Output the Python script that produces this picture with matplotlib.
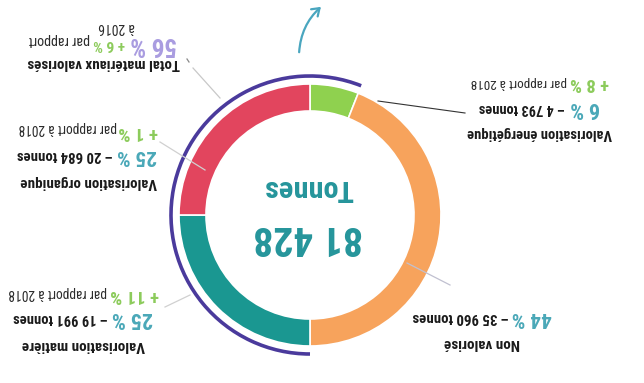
import matplotlib
matplotlib.use("Agg")
import matplotlib.pyplot as plt
from matplotlib.patches import Arc, FancyArrowPatch
from matplotlib import font_manager

# tonnage split, clockwise from the top of the ring
labels = ["Valorisation énergétique", "Non valorisé", "Valorisation matière", "Valorisation organique"]
shares = [6, 44, 25, 25]
tonnes = ["4 793", "35 960", "19 991", "20 684"]
changes = ["+ 8 %", None, "+ 11 %", "+ 1 %"]
colors = ["#8fd14f", "#f7a35c", "#1a9791", "#e2455e"]
valorised = [True, False, True, True]
total = "81 428"
total_share = "56 %"
total_change = "+ 6 %"

names = {f.name for f in font_manager.fontManager.ttflist}
FONT = next((f for f in ["Roboto Condensed", "PT Sans Narrow", "Liberation Sans"] if f in names), "DejaVu Sans")
plt.rcParams["font.family"] = [FONT, "DejaVu Sans"]

W, H = 644, 383
fig = plt.figure(figsize=(W / 100, H / 100), dpi=100)
ax = fig.add_axes([0, 0, 1, 1])

def Y(py):
    return H - py

cx, cy, R = 310, Y(215), 131
ax.pie(shares, colors=colors, startangle=90, counterclock=False, radius=R, center=(cx, cy),
       wedgeprops=dict(width=27, edgecolor="white", linewidth=1.2), frame=True)
ax.set_xlim(0, W)
ax.set_ylim(0, H)
ax.axis("off")

# purple arc round the valorised segments (starts where the green one ends)
val_pct = sum(s for s, v in zip(shares, valorised) if v)
t_end = 90 - shares[0] * 3.6
ax.add_patch(Arc((cx, cy), 2 * 139, 2 * 139, theta1=t_end, theta2=t_end + val_pct * 3.6,
                 color="#4a3a9c", lw=2.6))

# curved arrow above the ring
ax.add_patch(FancyArrowPatch((299, Y(55)), (323, Y(5)), connectionstyle="arc3,rad=-0.22",
                             arrowstyle="->,head_length=5,head_width=3.5", color="#4aa6bf", lw=1.6))

# leader lines
ax.plot([378, 465], [Y(101), Y(113)], color="#333333", lw=0.8)
ax.plot([220, 193], [Y(98), Y(68)], color="#c8c8c8", lw=0.9)
ax.plot([187, 189], [Y(59), Y(62)], color="#888888", lw=0.9)
ax.plot([160, 205], [Y(142), Y(170)], color="#d0d0d0", lw=0.9)
ax.plot([165, 190], [Y(307), Y(295)], color="#d0d0d0", lw=0.9)
ax.plot([407, 450], [Y(263), Y(285)], color="#c0c0d0", lw=0.9)

TEAL = "#25959b"
PCT = "#4aa8b8"
GREEN = "#8ccb5b"
LAV = "#a99ce0"
INK = "#1a1a1a"

renderer = fig.canvas.get_renderer()

def put(s, x0, x1, y, color, bold=True, fs=10):
    # upside-down text, sized so it spans x0..x1
    t = ax.text(x1, Y(y), s, rotation=180, ha="right", va="center", fontsize=fs,
                fontweight="bold" if bold else "normal", color=color)
    w = t.get_window_extent(renderer=renderer).width
    t.set_fontsize(fs * (x1 - x0) / w)
    return t

# centre total
put(total, 253, 363, 237, TEAL, fs=30)
put("Tonnes", 263, 353, 188, TEAL, fs=20)

# valorisation énergétique
put(labels[0], 467, 612, 133, INK)
put(f"{shares[0]} %", 570, 600, 108, PCT, fs=14)
put(f"– {tonnes[0]} tonnes", 479, 565, 108, INK)
put(changes[0], 570, 609, 83, GREEN, fs=14)
put("par rapport à 2018", 470, 567, 82, "#2a2a2a", bold=False, fs=8)

# non valorisé
put(labels[1], 444, 520, 343, INK)
put(f"{shares[1]} %", 512, 552, 317, PCT, fs=14)
put(f"– {tonnes[1]} tonnes", 412, 509, 317, INK)

# valorisation matière
put(labels[2], 22, 145, 345, INK)
put(f"{shares[2]} %", 112, 153, 318, PCT, fs=14)
put(f"– {tonnes[2]} tonnes", 13, 108, 318, INK)
put(changes[2], 110, 159, 295, GREEN, fs=14)
put("par rapport à 2018", 7, 107, 293, "#2a2a2a", bold=False, fs=8)

# valorisation organique
put(labels[3], 20, 157, 182, INK)
put(f"{shares[3]} %", 117, 157, 155, PCT, fs=14)
put(f"– {tonnes[3]} tonnes", 17, 113, 155, INK)
put(changes[3], 118, 158, 132, GREEN, fs=14)
put("par rapport à 2018", 18, 117, 128, "#2a2a2a", bold=False, fs=8)

# total valorised
put("Total matériaux valorisés", 27, 180, 63, INK)
put(total_share, 130, 177, 44, LAV, fs=14)
put(total_change, 93, 125, 44, GREEN, fs=14)
put("par rapport", 28, 90, 40, "#2a2a2a", bold=False, fs=8)
put("à 2016", 98, 135, 27, "#2a2a2a", bold=False, fs=8)

fig.savefig("out.png", dpi=100)
